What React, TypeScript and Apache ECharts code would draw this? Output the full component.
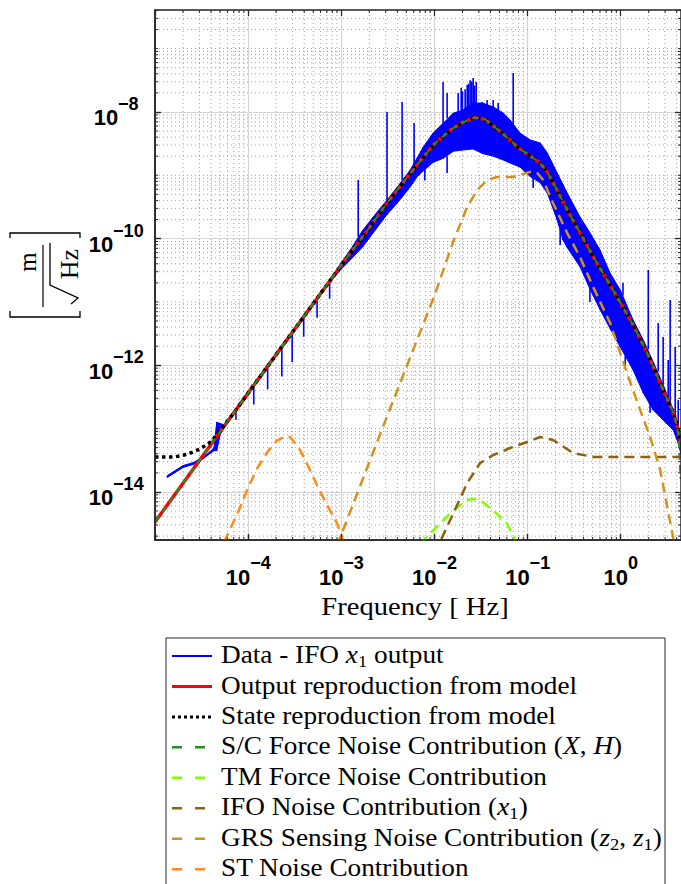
import React, { useEffect, useRef } from "react";
import * as echarts from "echarts";

// ---------- data (frequency in Hz, amplitude spectral density in m/sqrt(Hz)) ----------
const modelFreq = [1e-5, 2e-5, 5e-5, 1e-4, 1e-3, 2e-3, 3e-3, 5e-3, 7e-3, 1e-2, 1.5e-2, 2e-2, 2.7e-2, 3.5e-2, 5e-2, 6.5e-2, 8e-2, 0.1, 0.135, 0.16, 0.2, 0.27, 0.37, 0.5, 0.7, 1.0, 1.4, 2.0, 2.8, 3.6, 4.0, 4.4];
const modelASD = [3.34e-15, 1.37e-14, 8.9e-14, 3.63e-13, 3.8e-11, 1.48e-10, 3.42e-10, 8.89e-10, 1.67e-9, 3.12e-9, 5.24e-9, 6.82e-9, 8.13e-9, 7.67e-9, 5.01e-9, 3.61e-9, 2.7e-9, 2.16e-9, 1.585e-9, 1.175e-9, 6.46e-10, 2.75e-10, 1.2e-10, 5.37e-11, 2.34e-11, 9.55e-12, 3.98e-12, 1.39e-12, 4.37e-13, 1.91e-13, 1.2e-13, 6.0e-14];

const stateFreq = [1e-5, 1.6e-5, 2.2e-5, 3e-5, 4e-5, 5e-5, 7e-5, 1e-4, 1e-3, 2e-3, 3e-3, 5e-3, 7e-3, 1e-2, 1.5e-2, 2e-2, 2.7e-2, 3.5e-2, 5e-2, 6.5e-2, 8e-2, 0.1, 0.135, 0.16, 0.2, 0.27, 0.37, 0.5, 0.7, 1.0, 1.4, 2.0, 2.8, 3.6, 4.0, 4.4];
const stateASD = [3.55e-14, 3.55e-14, 3.9e-14, 4.7e-14, 6.2e-14, 9.3e-14, 1.75e-13, 3.63e-13, 3.8e-11, 1.48e-10, 3.42e-10, 8.89e-10, 1.67e-9, 3.12e-9, 5.24e-9, 6.82e-9, 8.13e-9, 7.67e-9, 5.01e-9, 3.61e-9, 2.7e-9, 2.16e-9, 1.585e-9, 1.175e-9, 6.46e-10, 2.75e-10, 1.2e-10, 5.37e-11, 2.34e-11, 9.55e-12, 3.98e-12, 1.39e-12, 4.37e-13, 1.91e-13, 1.2e-13, 6.0e-14];

const scFreq = [1e-5, 2e-5, 5e-5, 1e-4, 1e-3, 2e-3, 3e-3, 5e-3, 7e-3, 1e-2, 1.5e-2, 2e-2, 2.7e-2, 3.5e-2, 5e-2, 6.5e-2, 8e-2, 0.1, 0.135, 0.16, 0.2, 0.27, 0.37, 0.5, 0.7, 1.0, 1.4, 2.0, 2.8, 3.6, 4.0, 4.2, 4.4];
const scASD = [3.34e-15, 1.37e-14, 8.9e-14, 3.63e-13, 3.8e-11, 1.48e-10, 3.42e-10, 8.89e-10, 1.67e-9, 3.12e-9, 5.24e-9, 6.82e-9, 8.13e-9, 7.67e-9, 5.01e-9, 3.61e-9, 2.7e-9, 2.16e-9, 1.585e-9, 1.175e-9, 6.46e-10, 2.75e-10, 1.2e-10, 5.37e-11, 2.34e-11, 9.55e-12, 3.98e-12, 1.39e-12, 4.37e-13, 1.91e-13, 1.15e-13, 7.0e-14, 1.6e-14];

const tmFreq = [7e-3, 1.15e-2, 1.6e-2, 2.25e-2, 2.6e-2, 3.1e-2, 4.3e-2, 6e-2, 7.5e-2, 8.5e-2];
const tmASD = [1.5e-15, 3.2e-15, 5.1e-15, 7.4e-15, 7.8e-15, 7.4e-15, 5.1e-15, 3.2e-15, 1.66e-15, 1.0e-15];

const ifoFreq = [1.02e-2, 1.2e-2, 1.6e-2, 2.25e-2, 3.1e-2, 4.3e-2, 6.5e-2, 9.9e-2, 0.137, 0.188, 0.31, 0.51, 4.47];
const ifoASD = [1.05e-15, 1.86e-15, 4.6e-15, 1.38e-14, 2.86e-14, 3.82e-14, 4.93e-14, 6.14e-14, 7.36e-14, 6.6e-14, 4.1e-14, 3.56e-14, 3.56e-14];

const grsFreq = [9e-4, 1e-3, 3e-3, 1e-2, 1.6e-2, 2.25e-2, 2.9e-2, 3.7e-2, 4.7e-2, 7e-2, 0.107, 0.125, 0.147, 0.188, 0.267, 0.367, 0.507, 0.773, 1.17, 1.62, 2.07, 2.66, 3.67, 4.0];
const grsASD = [1.4e-15, 2.1e-15, 1.37e-13, 1.25e-11, 9.1e-11, 3.16e-10, 5.9e-10, 8.4e-10, 9.4e-10, 9.4e-10, 1.13e-9, 1.12e-9, 8.4e-10, 3.65e-10, 1.22e-10, 5.1e-11, 1.72e-11, 4.6e-12, 7.5e-13, 1.96e-13, 7.4e-14, 2.2e-14, 1.86e-15, 1.0e-15];

const stFreq = [5.5e-5, 8e-5, 1e-4, 1.26e-4, 1.6e-4, 2e-4, 2.5e-4, 2.8e-4, 3.5e-4, 4.5e-4, 5.6e-4, 7e-4, 9e-4, 1.1e-3];
const stASD = [1.6e-15, 5.2e-15, 1.17e-14, 2.4e-14, 4.2e-14, 6.3e-14, 7.6e-14, 7.4e-14, 5.0e-14, 2.4e-14, 1.2e-14, 6.3e-15, 3.2e-15, 1.4e-15];

// measured data (IFO x1): envelope of the noisy trace
const dataFreq = [1.35e-5, 1.6e-5, 2e-5, 2.6e-5, 3.3e-5, 3.9e-5, 4.3e-5, 4.6e-5, 5e-5, 5.5e-5, 6.5e-5, 8e-5, 1e-4, 1.5e-4, 2e-4, 3e-4, 4e-4, 6e-4, 8e-4, 1e-3, 1.25e-3, 1.7e-3, 2.2e-3, 2.8e-3, 3.1e-3, 4e-3, 5.5e-3, 6.5e-3, 7.6e-3, 9.7e-3, 1.25e-2, 1.6e-2, 2e-2, 2.6e-2, 3.3e-2, 4.3e-2, 5.5e-2, 6.5e-2, 8.3e-2, 0.107, 0.137, 0.163, 0.208, 0.24, 0.267, 0.367, 0.47, 0.6, 0.77, 0.99, 1.36, 1.75, 2.24, 2.86, 3.67, 4.15, 4.47];
const dataHigh = [1.8e-14, 2.11e-14, 2.6e-14, 2.92e-14, 3.59e-14, 4.32e-14, 5.01e-14, 1.26e-13, 1.2e-13, 1.15e-13, 1.58e-13, 2.43e-13, 3.8e-13, 8.61e-13, 1.54e-12, 3.5e-12, 6.25e-12, 1.41e-11, 2.51e-11, 4.17e-11, 6.61e-11, 1.35e-10, 2.19e-10, 3.39e-10, 4.07e-10, 6.53e-10, 1.21e-9, 1.86e-9, 2.79e-9, 4.65e-9, 6.68e-9, 9.62e-9, 1.06e-8, 1.38e-8, 1.38e-8, 1.2e-8, 9.62e-9, 7.46e-9, 4.65e-9, 3.61e-9, 3.24e-9, 2.25e-9, 1.09e-9, 7.16e-10, 5.25e-10, 2.19e-10, 1.22e-10, 6.61e-11, 2.86e-11, 1.54e-11, 5.18e-12, 2.51e-12, 1.12e-12, 4.9e-13, 1.96e-13, 1.12e-13, 6.61e-14];
const dataLow = [1.68e-14, 1.97e-14, 2.43e-14, 2.72e-14, 3.35e-14, 4.03e-14, 4.47e-14, 4.47e-14, 7.94e-14, 1.02e-13, 1.45e-13, 2.21e-13, 3.47e-13, 7.85e-13, 1.41e-12, 3.19e-12, 5.7e-12, 1.29e-11, 2.24e-11, 3.31e-11, 4.59e-11, 7.41e-11, 1.23e-10, 1.97e-10, 2.4e-10, 3.65e-10, 6.53e-10, 9.4e-10, 1.17e-9, 1.6e-9, 1.86e-9, 2.4e-9, 2.5e-9, 2.6e-9, 2.2e-9, 2.0e-9, 1.74e-9, 1.56e-9, 1.35e-9, 9.55e-10, 7.59e-10, 5.25e-10, 1.97e-10, 9.55e-11, 7.24e-11, 3.56e-11, 1.58e-11, 7.59e-12, 3.8e-12, 1.94e-12, 8.41e-13, 3.64e-13, 1.96e-13, 1.36e-13, 9.48e-14, 5.92e-14, 3.8e-14];

// individual spectral lines / dips of the measured trace
const spikeFreq = [7.4e-5, 1.15e-4, 1.62e-4, 2.3e-4, 2.97e-4, 3.95e-4, 5.5e-4, 7.5e-4, 7.9e-3, 1.37e-2, 0.115, 0.224, 0.468, 1.12, 2.07, 1.52e-3, 3.1e-3, 4.5e-3, 6.05e-3, 1.24e-2, 1.37e-2, 1.8e-2, 1.94e-2, 2.0e-2, 2.14e-2, 2.25e-2, 2.33e-2, 2.42e-2, 2.52e-2, 2.61e-2, 2.7e-2, 2.81e-2, 3.26e-2, 3.68e-2, 4.28e-2, 4.84e-2, 7.02e-2, 1.06, 1.98, 2.53, 2.86, 3.24, 3.4, 3.85, 4.15];
const spikeLow = [1.38e-13, 2.4e-13, 4.17e-13, 6.61e-13, 1.12e-12, 2.82e-12, 5.62e-12, 1.12e-11, 8.3e-10, 1.09e-9, 6.3e-10, 7.9e-11, 1.0e-11, 8.9e-13, 1.78e-13, 1.07e-10, 4.07e-10, 8.3e-10, 1.41e-9, 6.31e-9, 7.94e-9, 1.0e-8, 1.05e-8, 1.05e-8, 1.1e-8, 1.1e-8, 1.15e-8, 1.2e-8, 1.2e-8, 1.2e-8, 1.2e-8, 1.2e-8, 1.2e-8, 1.1e-8, 1.0e-8, 9.5e-9, 6.3e-9, 1.26e-11, 1.78e-12, 7.94e-13, 5.01e-13, 3.16e-13, 2.51e-13, 1.58e-13, 1.12e-13];
const spikeHigh = [1.97e-13, 4.82e-13, 9.63e-13, 1.95e-12, 3.27e-12, 5.83e-12, 1.135e-11, 2.13e-11, 1.26e-9, 2.0e-9, 1.0e-9, 1.4e-10, 1.6e-11, 1.4e-12, 2.8e-13, 8.41e-10, 1.0e-8, 1.44e-8, 6.68e-9, 2.97e-8, 2.0e-8, 2.0e-8, 2.4e-8, 2.1e-8, 2.29e-8, 2.67e-8, 2.8e-8, 3.16e-8, 3.0e-8, 3.44e-8, 2.6e-8, 2.97e-8, 1.44e-8, 1.55e-8, 1.55e-8, 1.38e-8, 4.12e-8, 2.0e-11, 3.19e-11, 4.65e-12, 2.79e-12, 1.21e-12, 1.07e-11, 1.94e-12, 2.82e-13];

// axis decades (exponents of 10)
const xTickExps = [-5, -4, -3, -2, -1, 0];
const xLabelExps = [-4, -3, -2, -1, 0];
const yTickExps = [-14, -12, -10, -8];

const legendLabels = [
  "{n|Data - IFO }{i|x}{sub|1}{n| output}",
  "{n|Output reproduction from model}",
  "{n|State reproduction from model}",
  "{n|S/C Force Noise Contribution (}{i|X}{n|, }{i|H}{n|)}",
  "{n|TM Force Noise Contribution}",
  "{n|IFO Noise Contribution (}{i|x}{sub|1}{n|)}",
  "{n|GRS Sensing Noise Contribution (}{i|z}{sub|2}{n|, }{i|z}{sub|1}{n|)}",
  "{n|ST Noise Contribution}",
];

// ---------- styling ----------
const C_BLUE = "#0000ff";
const C_RED = "#ff0000";
const C_BLACK = "#000000";
const C_SC = "#2b8a2b";
const C_TM = "#7fff00";
const C_IFO = "#8f6010";
const C_GRS = "#d4921a";
const C_ST = "#ff8c1a";

const SERIF = '"Liberation Serif", "Times New Roman", serif';
const SANS = '"Liberation Sans", Arial, Helvetica, sans-serif';

const X_MIN = -5;
const X_MAX = 0.648;
const Y_MIN = -14.76;
const Y_MAX = -6.39;

const lg = (v: number) => Math.log10(v);
const pts = (f: number[], v: number[]) => f.map((x, i) => [lg(x), lg(v[i])]);

function buildOption() {
  const xMinor: number[] = [];
  for (let n = -5; n <= 0; n++) {
    for (let k = 2; k <= 9; k++) {
      const v = n + lg(k);
      if (v <= X_MAX) xMinor.push(v);
    }
  }
  const yMinor: number[] = [];
  for (let n = -15; n <= -7; n++) {
    for (let k = 1; k <= 9; k++) {
      if (k === 1 && n % 2 === 0) continue;
      const v = n + lg(k);
      if (v >= Y_MIN && v <= Y_MAX) yMinor.push(v);
    }
  }

  const axisLine = { show: true, onZero: false, lineStyle: { color: "#262626", width: 1.5 } };
  const majorTick = (vals: number[]) => ({ show: true, inside: true, length: 6, customValues: vals, lineStyle: { color: "#262626", width: 1.2 } });
  const majorSplit = { show: true, lineStyle: { color: "#d6d6d6", width: 1.2, type: "solid" } };
  const fmt = (v: number) => {
    const e = Math.round(v);
    return `{z| }{b|10}{s|${e < 0 ? "\u2212" + Math.abs(e) : e}}`;
  };
  const labelRich = {
    z: { fontFamily: SANS, fontSize: 1, color: "#000", lineHeight: 34, verticalAlign: "middle" },
    b: { fontFamily: SANS, fontWeight: "bold", fontSize: 22, color: "#000", lineHeight: 22, verticalAlign: "bottom" },
    s: { fontFamily: SANS, fontWeight: "bold", fontSize: 18, color: "#000", lineHeight: 28, verticalAlign: "top" },
  };

  const xBase = { type: "value", min: X_MIN, max: X_MAX, gridIndex: 0 };
  const yBase = { type: "value", min: Y_MIN, max: Y_MAX, gridIndex: 0 };

  const xAxis = [
    {
      ...xBase, position: "bottom", axisLine, axisTick: majorTick(xTickExps),
      axisLabel: { show: true, customValues: xLabelExps, margin: 14, formatter: fmt, rich: labelRich },
      splitLine: majorSplit,
    },
    { ...xBase, position: "top", axisLine, axisTick: majorTick(xTickExps), axisLabel: { show: false }, splitLine: { show: false }, z: 8 },
    { ...xBase, position: "bottom", axisLine, axisTick: majorTick(xTickExps), axisLabel: { show: false }, splitLine: { show: false }, z: 8 },
  ];
  const yAxis = [
    {
      ...yBase, position: "left", axisLine, axisTick: majorTick(yTickExps),
      axisLabel: { show: true, customValues: yTickExps, margin: 39, align: "center", formatter: fmt, rich: labelRich },
      splitLine: majorSplit,
    },
    { ...yBase, position: "right", axisLine, axisTick: majorTick(yTickExps), axisLabel: { show: false }, splitLine: { show: false }, z: 8 },
    { ...yBase, position: "left", axisLine, axisTick: majorTick(yTickExps), axisLabel: { show: false }, splitLine: { show: false }, z: 8 },
  ];

  const line = (name: string, data: number[][], color: string, width: number, type: any, z: number) => ({
    name, type: "line", xAxisIndex: 0, yAxisIndex: 0, data, symbol: "none", showSymbol: false, silent: true, z,
    lineStyle: { color, width, type, cap: "butt" },
  });

  const minorDash = { stroke: "#a3a3a3", lineWidth: 1, lineDash: [1, 3] };
  const tickStyle = { stroke: "#262626", lineWidth: 1 };

  const bandSegments = dataFreq.slice(0, -1).map((f, i) => [
    lg(f), lg(dataLow[i]), lg(dataHigh[i]),
    lg(dataFreq[i + 1]), lg(dataLow[i + 1]), lg(dataHigh[i + 1]),
  ]);

  const series: any[] = [
    {
      name: "minorGridX", type: "custom", xAxisIndex: 0, yAxisIndex: 0, silent: true, z: 1, clip: false,
      data: xMinor.map((v) => [v, Y_MIN]),
      encode: { x: 0, y: 1 },
      renderItem: (params: any, api: any) => {
        const a = api.coord([api.value(0), Y_MIN]);
        const b = api.coord([api.value(0), Y_MAX]);
        return {
          type: "group",
          children: [
            { type: "line", shape: { x1: a[0], y1: a[1], x2: b[0], y2: b[1] }, style: minorDash },
            { type: "line", shape: { x1: a[0], y1: a[1], x2: a[0], y2: a[1] - 3 }, style: tickStyle },
            { type: "line", shape: { x1: b[0], y1: b[1], x2: b[0], y2: b[1] + 3 }, style: tickStyle },
          ],
        };
      },
    },
    {
      name: "minorGridY", type: "custom", xAxisIndex: 0, yAxisIndex: 0, silent: true, z: 1, clip: false,
      data: yMinor.map((v) => [X_MIN, v]),
      encode: { x: 0, y: 1 },
      renderItem: (params: any, api: any) => {
        const a = api.coord([X_MIN, api.value(1)]);
        const b = api.coord([X_MAX, api.value(1)]);
        return {
          type: "group",
          children: [
            { type: "line", shape: { x1: a[0], y1: a[1], x2: b[0], y2: b[1] }, style: minorDash },
            { type: "line", shape: { x1: a[0], y1: a[1], x2: a[0] + 3, y2: a[1] }, style: tickStyle },
            { type: "line", shape: { x1: b[0], y1: b[1], x2: b[0] - 3, y2: b[1] }, style: tickStyle },
          ],
        };
      },
    },
    {
      name: "Data - IFO x1 output", type: "custom", xAxisIndex: 0, yAxisIndex: 0, silent: true, z: 2,
      data: bandSegments,
      encode: { x: [0, 3], y: [1, 2, 4, 5] },
      renderItem: (params: any, api: any) => {
        const p1 = api.coord([api.value(0), api.value(1)]);
        const p2 = api.coord([api.value(3), api.value(4)]);
        const p3 = api.coord([api.value(3), api.value(5)]);
        const p4 = api.coord([api.value(0), api.value(2)]);
        return {
          type: "polygon",
          shape: { points: [p1, p2, p3, p4] },
          style: { fill: C_BLUE, stroke: C_BLUE, lineWidth: 1, lineJoin: "round" },
        };
      },
    },
    {
      name: "dataLines", type: "custom", xAxisIndex: 0, yAxisIndex: 0, silent: true, z: 2,
      data: spikeFreq.map((f, i) => [lg(f), lg(spikeLow[i]), lg(spikeHigh[i])]),
      encode: { x: 0, y: [1, 2] },
      renderItem: (params: any, api: any) => {
        const a = api.coord([api.value(0), api.value(1)]);
        const b = api.coord([api.value(0), api.value(2)]);
        return { type: "line", shape: { x1: a[0], y1: a[1], x2: b[0], y2: b[1] }, style: { stroke: C_BLUE, lineWidth: 1.6 } };
      },
    },
    line("Output reproduction from model", pts(modelFreq, modelASD), C_RED, 3.5, "solid", 3),
    line("State reproduction from model", pts(stateFreq, stateASD), C_BLACK, 3.5, [3.5, 3.5], 4),
    line("S/C Force Noise Contribution", pts(scFreq, scASD), C_SC, 2, [7, 5], 5),
    line("TM Force Noise Contribution", pts(tmFreq, tmASD), C_TM, 2.5, [10, 6], 6),
    line("IFO Noise Contribution", pts(ifoFreq, ifoASD), C_IFO, 2.5, [10, 6], 6),
    line("GRS Sensing Noise Contribution", pts(grsFreq, grsASD), C_GRS, 2.5, [10, 6], 6),
    line("ST Noise Contribution", pts(stFreq, stASD), C_ST, 2.5, [10, 6], 6),
  ];

  // ---------- graphic: axis titles and legend ----------
  const legendRich = {
    n: { fill: "#000", fontFamily: SERIF, fontSize: 25, lineHeight: 30, verticalAlign: "middle" },
    i: { fill: "#000", fontFamily: SERIF, fontSize: 25, fontStyle: "italic", lineHeight: 30, verticalAlign: "middle" },
    sub: { fill: "#000", fontFamily: SERIF, fontSize: 17, lineHeight: 18, verticalAlign: "bottom" },
  };
  const legendStyles = [
    { color: C_BLUE, width: 2, dash: null, end: 212 },
    { color: C_RED, width: 3, dash: null, end: 212 },
    { color: C_BLACK, width: 3, dash: [3, 3], end: 212 },
    { color: C_SC, width: 2.5, dash: [10, 13], end: 205 },
    { color: C_TM, width: 2.5, dash: [10, 13], end: 205 },
    { color: C_IFO, width: 2.5, dash: [10, 13], end: 205 },
    { color: C_GRS, width: 2.5, dash: [10, 13], end: 205 },
    { color: C_ST, width: 2.5, dash: [10, 13], end: 205 },
  ];
  const legendEls: any[] = [
    { type: "rect", shape: { x: 166, y: 638, width: 499, height: 262 }, style: { fill: "#fff", stroke: "#262626", lineWidth: 1 }, silent: true },
  ];
  legendLabels.forEach((t, i) => {
    const y = 655 + i * 30.45;
    const s = legendStyles[i];
    legendEls.push({
      type: "line", shape: { x1: 172, y1: y + 1, x2: s.end, y2: y + 1 },
      style: { stroke: s.color, lineWidth: s.width, lineDash: s.dash || undefined }, silent: true,
    });
    legendEls.push({
      type: "text", x: 221, y, scaleX: 1.09,
      style: { text: t, rich: legendRich, align: "left", verticalAlign: "middle", fill: "#000", fontFamily: SERIF, fontSize: 25 },
      silent: true,
    });
  });

  const titleEls: any[] = [
    {
      type: "text", x: 415, y: 606, scaleX: 1.1,
      style: { text: "Frequency [ Hz]", fontFamily: SERIF, fontSize: 26, fill: "#000", align: "center", verticalAlign: "middle" },
      silent: true,
    },
    { type: "polyline", shape: { points: [[10, 238], [10, 233], [80, 233], [80, 238]] }, style: { stroke: "#000", lineWidth: 1.3, fill: null }, silent: true },
    { type: "polyline", shape: { points: [[10, 311], [10, 317], [80, 317], [80, 311]] }, style: { stroke: "#000", lineWidth: 1.3, fill: null }, silent: true },
    {
      type: "text", x: 27, y: 262, rotation: Math.PI / 2,
      style: { text: "m", fontFamily: SERIF, fontSize: 25, fill: "#000", align: "center", verticalAlign: "middle" }, silent: true,
    },
    { type: "line", shape: { x1: 43, y1: 245, x2: 43, y2: 307 }, style: { stroke: "#000", lineWidth: 1.2 }, silent: true },
    { type: "polyline", shape: { points: [[50, 243], [50, 285], [78, 298], [71, 304]] }, style: { stroke: "#000", lineWidth: 1.3, fill: null }, silent: true },
    {
      type: "text", x: 69, y: 264, rotation: Math.PI / 2,
      style: { text: "Hz", fontFamily: SERIF, fontSize: 26, fill: "#000", align: "center", verticalAlign: "middle" }, silent: true,
    },
  ];

  return {
    animation: false,
    backgroundColor: "#ffffff",
    grid: { left: 155, top: 10, width: 526, height: 530, containLabel: false, outerBoundsMode: "none" },
    xAxis,
    yAxis,
    series,
    graphic: { elements: [...titleEls, ...legendEls] },
  };
}

export default function App() {
  const ref = useRef<HTMLDivElement>(null);
  useEffect(() => {
    if (!ref.current) return;
    const chart = echarts.init(ref.current, null, { renderer: "svg" });
    chart.setOption(buildOption() as any);
    return () => chart.dispose();
  }, []);
  return (
    <div
      ref={ref}
      style={{ position: "absolute", left: 0, top: 0, width: 681, height: 884, background: "#fff" }}
    />
  );
}
